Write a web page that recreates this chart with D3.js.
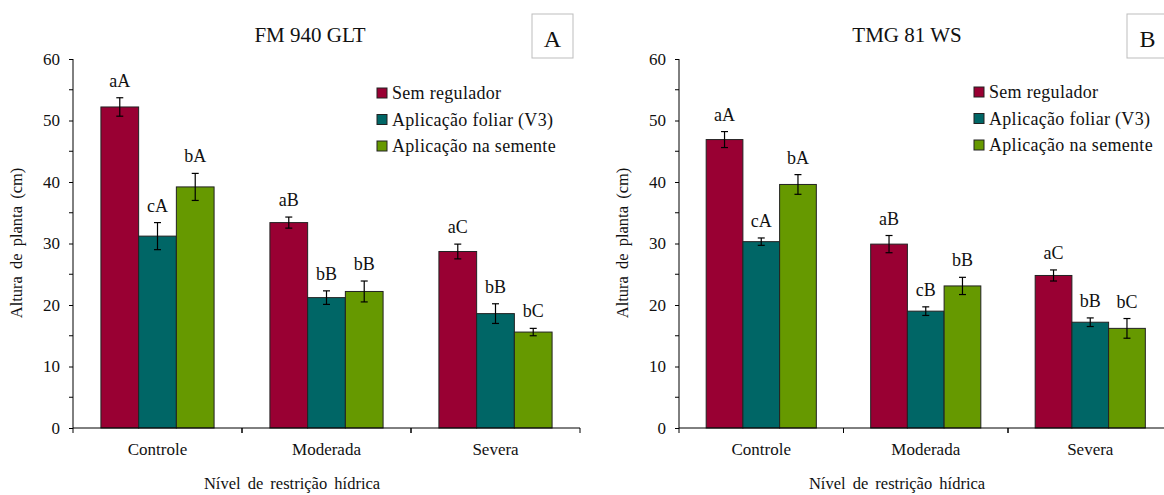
<!DOCTYPE html>
<html>
<head>
<meta charset="utf-8">
<script src="https://cdn.jsdelivr.net/npm/d3@7"></script>
<style>
  body { margin: 0; background: #fff; }
  svg, svg text { font-family: "Liberation Serif", "Tinos", "Times New Roman", Times, "Noto Serif", "DejaVu Serif", serif !important; }
</style>
</head>
<body>
<svg id="chart" width="1164" height="495"></svg>
<script>
// categories and series
var niveis = ["Controle", "Moderada", "Severa"];
var tratamentos = ["Sem regulador", "Aplicação foliar (V3)", "Aplicação na semente"];
var cores = ["#990033", "#006666", "#669900"];
var yTicks = [0, 10, 20, 30, 40, 50, 60];

// panel A - FM 940 GLT
var mediaA = [[52.2, 33.4, 28.7], [31.2, 21.2, 18.6], [39.2, 22.2, 15.6]];
var erroA = [[1.5, 0.9, 1.2], [2.2, 1.1, 1.6], [2.2, 1.7, 0.6]];
var letrasA = [["aA", "aB", "aC"], ["cA", "bB", "bB"], ["bA", "bB", "bC"]];

// panel B - TMG 81 WS
var mediaB = [[46.9, 29.9, 24.8], [30.3, 19.0, 17.2], [39.6, 23.1, 16.2]];
var erroB = [[1.3, 1.4, 0.9], [0.6, 0.7, 0.7], [1.6, 1.4, 1.6]];
var letrasB = [["aA", "aB", "aC"], ["cA", "cB", "bB"], ["bA", "bB", "bC"]];

var svg = d3.select("#chart");

function drawPanel(opt) {
    var g = svg.append("g");
    var y = d3.scaleLinear().domain([0, 60]).range([428, 59]);
    var x0 = d3.scaleBand().domain(niveis).range([opt.left, opt.right]).paddingInner(0).paddingOuter(0);
    var x1 = d3.scaleBand().domain(d3.range(tratamentos.length)).range([0, x0.bandwidth()])
        .paddingInner(0).paddingOuter(0.74);

    // bars
    tratamentos.forEach(function(t, s) {
        var grp = g.append("g");
        niveis.forEach(function(n, c) {
            var v = opt.media[s][c], e = opt.erro[s][c];
            var bx = x0(n) + x1(s);
            grp.append("rect")
                .attr("x", bx)
                .attr("y", y(v))
                .attr("width", x1.bandwidth())
                .attr("height", y(0) - y(v))
                .attr("fill", cores[s])
                .attr("stroke", "#222")
                .attr("stroke-width", 1);
            var cx = bx + x1.bandwidth() / 2;
            grp.append("line").attr("x1", cx).attr("x2", cx)
                .attr("y1", y(v - e)).attr("y2", y(v + e))
                .attr("stroke", "#000").attr("stroke-width", 1.2);
            [v - e, v + e].forEach(function(yy) {
                grp.append("line").attr("x1", cx - 3.5).attr("x2", cx + 3.5)
                    .attr("y1", y(yy)).attr("y2", y(yy))
                    .attr("stroke", "#000").attr("stroke-width", 1.2);
            });
            grp.append("text")
                .attr("x", cx)
                .attr("y", y(v + e) - 11)
                .attr("text-anchor", "middle")
                .attr("font-size", 18)
                .attr("fill", "#111")
                .text(opt.letras[s][c]);
        });
    });

    // y axis
    var yAxis = d3.axisLeft(y).tickValues(yTicks).tickSize(4).tickPadding(9).tickFormat(d3.format("d"));
    var ya = g.append("g").attr("transform", "translate(" + opt.left + ",0)").call(yAxis);
    ya.attr("font-family", null);
    ya.selectAll(".tick line").attr("stroke", "#000");
    ya.select(".domain").attr("d", "M0," + y(0) + "V" + y(60)).attr("stroke", "#000");
    ya.selectAll("text").attr("font-size", 17).attr("fill", "#111");
    [5, 15, 25, 35, 45, 55].forEach(function(m) {
        g.append("line").attr("x1", opt.left - 4).attr("x2", opt.left)
            .attr("y1", y(m)).attr("y2", y(m)).attr("stroke", "#000");
    });

    // x axis
    var xAxis = d3.axisBottom(x0).tickSize(0).tickPadding(15);
    var xa = g.append("g").attr("transform", "translate(0," + y(0) + ")").call(xAxis);
    xa.attr("font-family", null);
    xa.select(".domain").attr("d", "M" + opt.left + ",0H" + opt.right).attr("stroke", "#000");
    xa.selectAll("text").attr("font-size", 17).attr("fill", "#111");
    niveis.forEach(function(n) {
        [x0(n), x0(n) + x0.bandwidth()].forEach(function(px) {
            g.append("line").attr("x1", px).attr("x2", px)
                .attr("y1", y(0)).attr("y2", y(0) + 5).attr("stroke", "#000");
        });
    });

    // titles
    g.append("text").attr("x", opt.titleX).attr("y", 42).attr("text-anchor", "middle")
        .attr("font-size", 21).attr("fill", "#111").text(opt.titulo);
    g.append("text").attr("x", opt.xLabelX).attr("y", 489).attr("text-anchor", "middle")
        .attr("font-size", 16.5).attr("fill", "#111").attr("word-spacing", 3)
        .text("Nível de restrição hídrica");
    g.append("text").attr("transform", "translate(" + (opt.left - 51) + ",243) rotate(-90)")
        .attr("text-anchor", "middle").attr("font-size", 16.5).attr("fill", "#111")
        .attr("word-spacing", 3).text("Altura de planta (cm)");

    // panel letter box
    g.append("rect").attr("x", opt.boxX).attr("y", 14).attr("width", opt.boxW).attr("height", 44)
        .attr("fill", "#fff").attr("stroke", "#bdbdbd").attr("stroke-width", 1);
    g.append("text").attr("x", opt.boxX + 20.5).attr("y", 47).attr("text-anchor", "middle")
        .attr("font-size", 24).attr("fill", "#111").text(opt.painel);

    // legend
    tratamentos.forEach(function(t, s) {
        var ly = opt.legY + s * 26.5;
        g.append("rect").attr("x", opt.legX).attr("y", ly - 5).attr("width", 10).attr("height", 10)
            .attr("fill", cores[s]).attr("stroke", "#222");
        g.append("text").attr("x", opt.legX + 15).attr("y", ly + 6)
            .attr("font-size", 18).attr("fill", "#111").attr("letter-spacing", 0.3).text(t);
    });
}

drawPanel({ left: 73, right: 580, media: mediaA, erro: erroA, letras: letrasA,
    titulo: "FM 940 GLT", titleX: 310, xLabelX: 292, painel: "A", boxX: 532, boxW: 41,
    legX: 377, legY: 93 });
drawPanel({ left: 679, right: 1172.5, media: mediaB, erro: erroB, letras: letrasB,
    titulo: "TMG 81 WS", titleX: 907, xLabelX: 897, painel: "B", boxX: 1127, boxW: 41,
    legX: 974, legY: 92 });
</script>
</body>
</html>
